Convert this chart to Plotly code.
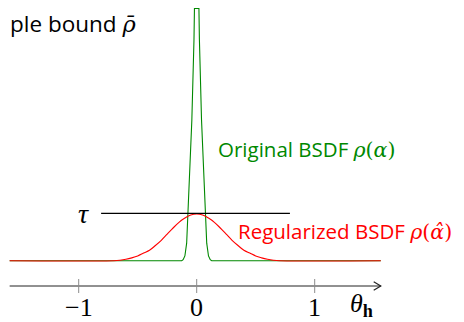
import plotly.graph_objects as go

# ---- data ----
theta_green = [-1.585, -0.127, -0.115, -0.100, -0.085, -0.072, -0.041, -0.023, -0.019,
               0.019, 0.023, 0.041, 0.072, 0.085, 0.100, 0.115, 0.127, 1.56]
rho_green = [0.0, 0.0, 0.02, 0.10, 0.37, 1.06, 2.97, 4.66, 5.32,
             5.32, 4.66, 2.97, 1.06, 0.37, 0.10, 0.02, 0.0, 0.0]

theta_red = [-1.585, -0.70, -0.65, -0.60, -0.55, -0.50, -0.45, -0.40, -0.35, -0.30, -0.25,
             -0.20, -0.15, -0.10, -0.05, 0.0, 0.05, 0.10, 0.15, 0.20, 0.25, 0.30,
             0.35, 0.40, 0.45, 0.50, 0.55, 0.60, 0.65, 0.70, 1.56]
rho_red = [0.0, 0.0, 0.01, 0.03, 0.06, 0.10, 0.16, 0.22, 0.32, 0.43, 0.56,
           0.69, 0.81, 0.90, 0.965, 0.985, 0.965, 0.90, 0.81, 0.69, 0.56, 0.43,
           0.32, 0.22, 0.16, 0.10, 0.06, 0.03, 0.01, 0.0, 0.0]

tau = 1.0
tau_theta = [-0.81, 0.79]

axis_theta = [-1.585, 1.56]
axis_level = -0.534
tick_vals = [-1, 0, 1]
tick_labels = ["\u22121", "0", "1"]
tick_label_level = -0.98

GREEN = "#008800"
RED = "#ff0000"

# arrowhead size in axis units (style)
ARROW_DX = 0.06
ARROW_DY = 0.09

fig = go.Figure()

# axis line
fig.add_trace(go.Scatter(x=axis_theta, y=[axis_level, axis_level], mode="lines",
                         line=dict(color="#222222", width=1), hoverinfo="skip"))
# arrow head
tip = axis_theta[1]
fig.add_trace(go.Scatter(x=[tip - ARROW_DX, tip, tip - ARROW_DX],
                         y=[axis_level + ARROW_DY, axis_level, axis_level - ARROW_DY],
                         mode="lines", line=dict(color="#222222", width=1.2), hoverinfo="skip"))
# ticks
fig.add_trace(go.Scatter(x=tick_vals, y=[axis_level] * len(tick_vals), mode="markers",
                         marker=dict(symbol="line-ns-open", size=10, color="#8c8c8c",
                                     line=dict(color="#8c8c8c", width=1)),
                         hoverinfo="skip"))
# original BSDF
fig.add_trace(go.Scatter(x=theta_green, y=rho_green, mode="lines",
                         line=dict(color=GREEN, width=1.1), hoverinfo="skip"))
# regularized BSDF
fig.add_trace(go.Scatter(x=theta_red, y=rho_red, mode="lines", line_shape="spline",
                         line=dict(color=RED, width=1.1), hoverinfo="skip"))
# tau line
fig.add_trace(go.Scatter(x=tau_theta, y=[tau, tau], mode="lines",
                         line=dict(color="black", width=1.2), hoverinfo="skip"))

serif = "Liberation Serif"
sans = "Open Sans"


def math(s):
    return "<span style='font-family:DejaVu Serif'>" + s + "</span>"


for v, lab in zip(tick_vals, tick_labels):
    fig.add_annotation(x=v, y=tick_label_level, text=lab, showarrow=False,
                       font=dict(family=serif, size=26, color="black"),
                       xanchor="center", yanchor="middle")

fig.add_annotation(x=1.40, y=tick_label_level + 0.05, text="<i>θ</i><sub><b>h</b></sub>",
                   showarrow=False, font=dict(family=serif, size=26, color="black"),
                   xanchor="center", yanchor="middle")

fig.add_annotation(x=-0.963, y=tau, text="<i>τ</i>", showarrow=False,
                   font=dict(family=serif, size=28, color="black"),
                   xanchor="center", yanchor="middle")

fig.add_annotation(x=0.165, y=2.36,
                   text="Original BSDF " + math("<i>ρ</i>(<i>α</i>)"),
                   showarrow=False, font=dict(family=sans, size=20.5, color=GREEN),
                   xanchor="left", yanchor="middle")

fig.add_annotation(x=0.335, y=0.62,
                   text="Regularized BSDF " + math("<i>ρ</i>(<i>α\u0302</i>)"),
                   showarrow=False, font=dict(family=sans, size=20.5, color=RED),
                   xanchor="left", yanchor="middle")

fig.add_annotation(x=0.0, y=1.0, xref="paper", yref="paper", yshift=-15.5,
                   text="ple bound " + math("<i>ρ\u0304</i>"),
                   showarrow=False, font=dict(family=sans, size=22.5, color="black"),
                   xanchor="left", yanchor="middle")

fig.update_layout(
    width=464, height=322,
    margin=dict(l=0, r=0, t=0, b=0),
    paper_bgcolor="white", plot_bgcolor="white",
    showlegend=False,
    xaxis=dict(range=[-1.599, 2.333], visible=False, fixedrange=True),
    yaxis=dict(range=[-1.462, 5.331], visible=False, fixedrange=True),
)

fig.write_html("out.html")
